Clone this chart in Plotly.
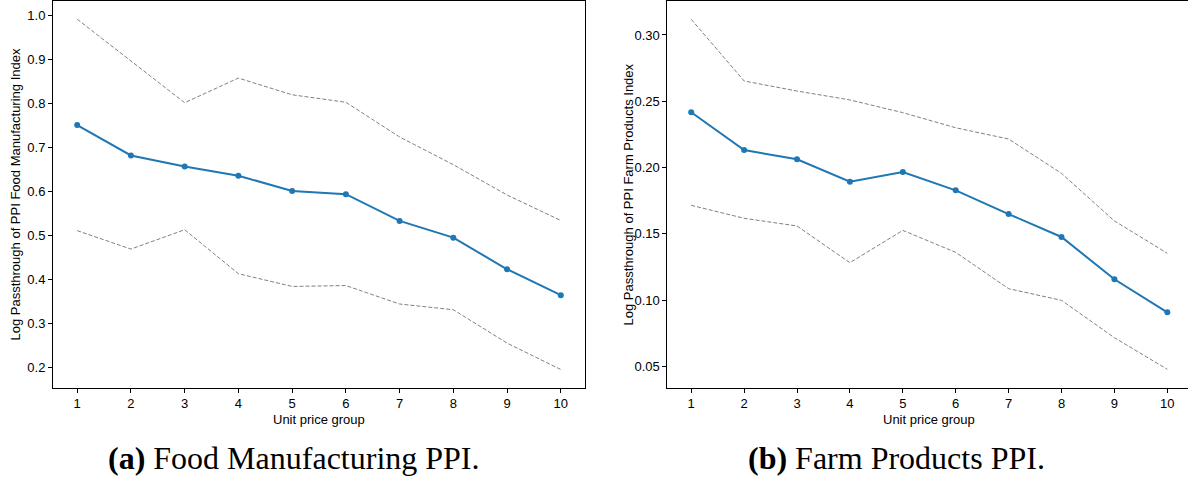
import plotly.graph_objects as go

groups = [1, 2, 3, 4, 5, 6, 7, 8, 9, 10]

food_mean = [0.751, 0.682, 0.657, 0.636, 0.601, 0.594, 0.533, 0.495, 0.423, 0.364]
food_upper = [0.992, 0.897, 0.802, 0.858, 0.820, 0.803, 0.724, 0.661, 0.592, 0.534]
food_lower = [0.511, 0.469, 0.513, 0.413, 0.384, 0.386, 0.344, 0.331, 0.255, 0.195]

farm_mean = [0.2417, 0.2132, 0.2062, 0.1893, 0.1966, 0.1828, 0.1649, 0.1476, 0.1157, 0.0908]
farm_upper = [0.3118, 0.2653, 0.2577, 0.2510, 0.2414, 0.2300, 0.2215, 0.1956, 0.1597, 0.1353]
farm_lower = [0.1715, 0.1617, 0.1559, 0.1282, 0.1526, 0.1360, 0.1086, 0.0998, 0.0716, 0.0478]

food_yticks = [0.2, 0.3, 0.4, 0.5, 0.6, 0.7, 0.8, 0.9, 1.0]
farm_yticks = [0.05, 0.10, 0.15, 0.20, 0.25, 0.30]

x_title = "Unit price group"
food_ytitle = "Log Passthrough of PPI Food Manufacturing Index"
farm_ytitle = "Log Passthrough of PPI Farm Products Index"
captions = ["<b>(a)</b> Food Manufacturing PPI.", "<b>(b)</b> Farm Products PPI."]

W, H = 1188, 487
BLUE = "#1f77b4"
GRAY = "#808080"
FONT = "Liberation Sans, Arial, sans-serif"

fig = go.Figure()

def add_panel(mean, upper, lower, xa, ya):
    for band in (upper, lower):
        fig.add_trace(go.Scatter(x=groups, y=band, mode="lines", xaxis=xa, yaxis=ya,
                                 line=dict(color=GRAY, width=1, dash="4px,2px"),
                                 showlegend=False, hoverinfo="skip"))
    fig.add_trace(go.Scatter(x=groups, y=mean, mode="lines+markers", xaxis=xa, yaxis=ya,
                             line=dict(color=BLUE, width=2),
                             marker=dict(color=BLUE, size=6),
                             showlegend=False))

add_panel(food_mean, food_upper, food_lower, "x", "y")
add_panel(farm_mean, farm_upper, farm_lower, "x2", "y2")

ydom = [1 - 387.7 / H, 1 - 1.3 / H]
axis_common = dict(showgrid=False, zeroline=False, showline=True, linecolor="black", linewidth=1,
                   ticks="outside", ticklen=4, tickwidth=1, tickcolor="black",
                   tickfont=dict(family=FONT, size=13, color="black"))

fig.update_layout(
    width=W, height=H,
    margin=dict(l=0, r=0, t=0, b=0),
    paper_bgcolor="white", plot_bgcolor="white",
    xaxis=dict(domain=[53 / W, 585 / W], range=[0.55, 10.45], tickvals=groups, mirror=True,
               anchor="y", **axis_common),
    yaxis=dict(domain=ydom, range=[0.1536, 1.0327], tickvals=food_yticks, tickformat=".1f",
               mirror=True, anchor="x", **axis_common),
    xaxis2=dict(domain=[667.4 / W, 1.0], range=[0.55, 10.391], tickvals=groups, mirror=True,
                anchor="y2", **axis_common),
    yaxis2=dict(domain=ydom, range=[0.0339, 0.3254], tickvals=farm_yticks, tickformat=".2f",
                mirror=False, anchor="x2", **axis_common),
)

ann = []
ycenter = 1 - 194.5 / H
common = dict(xref="paper", yref="paper", showarrow=False, xanchor="center", yanchor="middle")
# x titles
ann.append(dict(text=x_title, x=(53 + 585) / 2 / W, y=1 - 419 / H,
                font=dict(family=FONT, size=13, color="black"), **common))
ann.append(dict(text=x_title, x=(667.4 + 1191) / 2 / W, y=1 - 419 / H,
                font=dict(family=FONT, size=13, color="black"), **common))
# y titles
ann.append(dict(text=food_ytitle, x=15 / W, y=ycenter, textangle=-90,
                font=dict(family=FONT, size=13, color="black"), **common))
ann.append(dict(text=farm_ytitle, x=628 / W, y=ycenter, textangle=-90,
                font=dict(family=FONT, size=13, color="black"), **common))
# captions
ann.append(dict(text=captions[0], x=293.5 / W, y=1 - 458 / H,
                font=dict(family="Liberation Serif, serif", size=32, color="black"), **common))
ann.append(dict(text=captions[1], x=896 / W, y=1 - 458 / H,
                font=dict(family="Liberation Serif, serif", size=32, color="black"), **common))
fig.update_layout(annotations=ann)

fig.write_html("out.html")
